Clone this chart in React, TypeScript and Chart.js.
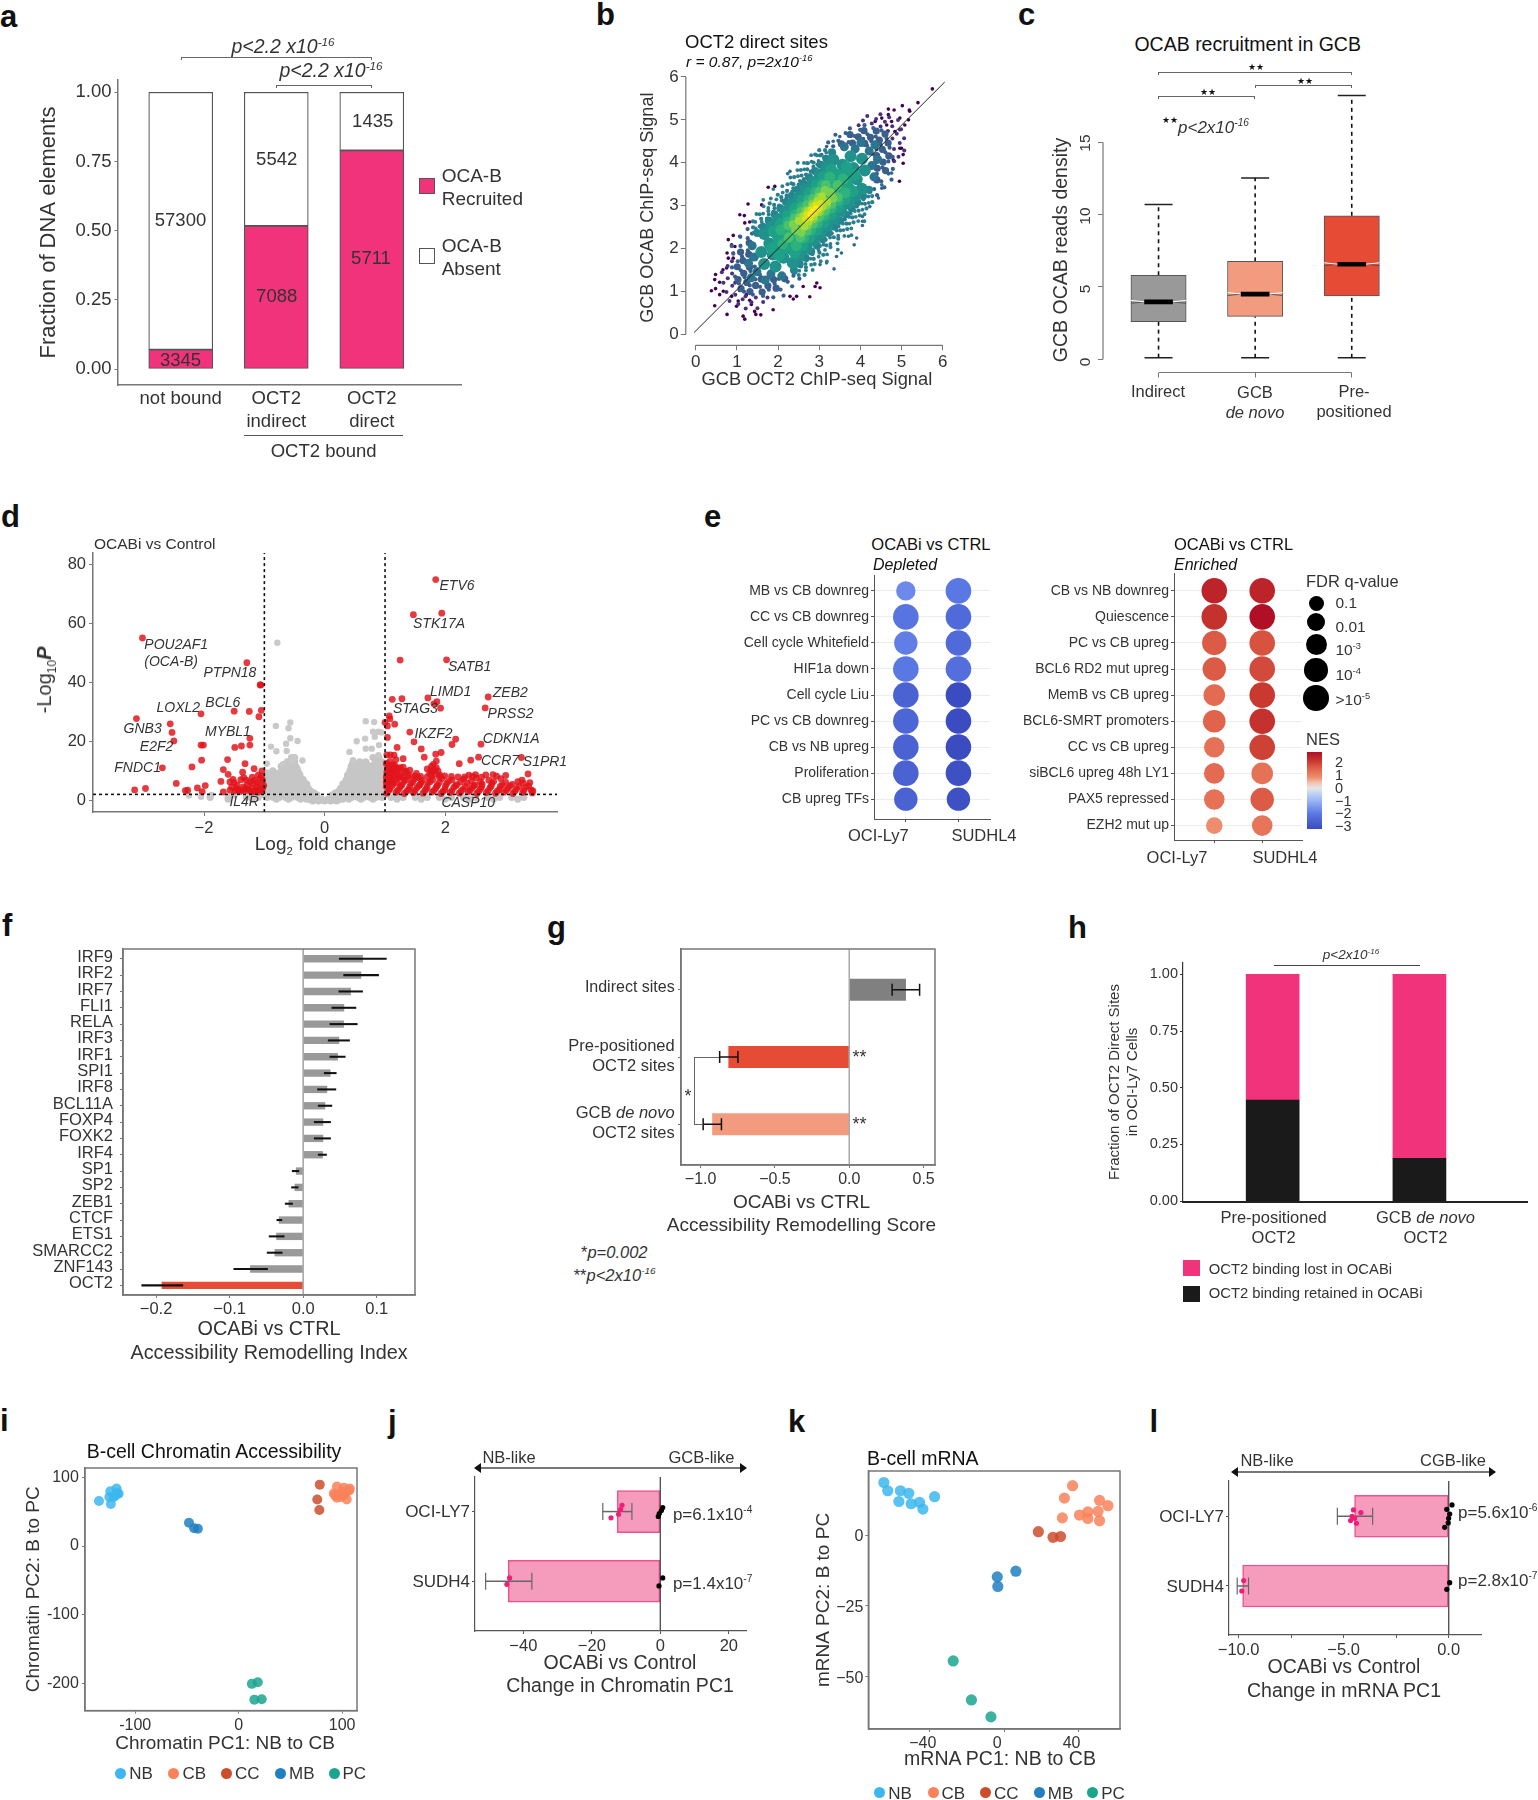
import React, { useEffect, useRef } from 'react';
import { Chart, registerables } from 'chart.js';
Chart.register(...registerables);

const FONT = '"Liberation Sans", Arial, sans-serif';
const TXT = '#333333';
const AX = '#777777';
const PINK = '#f0337a';
const RED = '#e64b35';
const SALMON = '#f39b7f';
const GRAY = '#999999';
const TOP = 22;
const RIGHT = 40;

const minus = (s: string) => s.replace('-', '\u2212');
const fmt = (d: number, m = true) => (v: number) => { const s = Number(v).toFixed(d); const z = Number(s) === 0 ? Number(0).toFixed(d) : s; return m ? minus(z) : z; };
const pairs = (a: number[]) => { const o: any[] = []; for (let i = 0; i < a.length; i += 2) o.push({ x: a[i], y: a[i + 1] }); return o; };
const rows = (r: [number, number[]][]) => r.flatMap(([y, xs]) => xs.map((x) => ({ x, y })));
// b: the cloud is read along its long axis (a) and across it (c), in data units from its centre
const cloud = (r: [number, number[]][]) => r.flatMap(([c, as]) => as.map((a) => ({ x: 2.85 + a * 0.7 + c * 0.72, y: 2.87 + a * 0.72 - c * 0.7 })));

// ---------- a
const aCats = ['not bound', ['OCT2', 'indirect'], ['OCT2', 'direct']];
const aRecruited = [0.07, 0.517, 0.79];
const aAbsent = [0.93, 0.483, 0.21];
// ---------- b
const bOutPurple = pairs([5.02,5.33,4.68,5.25,4.82,5.23,5.19,5.23,4.68,5.12,4.96,5.04,5.17,5.0,4.52,5.04,4.36,4.96,4.76,4.96,4.64,4.88,5.08,4.88,4.96,4.77,4.84,4.73,5.0,4.34,5.04,4.19,4.96,4.34,4.8,4.07,5.04,3.99,4.95,3.57,4.64,3.84,5.75,5.72,5.4,5.4,5.2,5.2,1.76,3.43,1.92,3.45,1.27,3.04,1.6,3.02,1.07,2.79,1.18,2.77,1.19,2.6,1.31,2.62,0.91,2.31,1.07,2.29,0.79,2.21,0.87,2.09,0.95,2.05,0.76,1.9,0.91,1.9,0.79,1.78,0.91,1.78,0.66,1.51,0.75,1.55,0.48,1.4,0.46,1.28,0.58,1.22,0.38,1.02,0.48,1.07,0.67,1.01,0.58,0.93,0.46,0.67,0.87,0.89,1.03,0.78,0.99,0.66,0.76,0.47,1.15,0.43,1.19,0.36,1.43,0.54,1.46,0.47,1.58,0.46,1.88,0.58,1.23,0.93,1.31,0.8,1.35,0.7,2.29,0.89,2.37,0.83,2.45,0.89,2.77,0.88,2.61,1.12,2.9,1.12,2.94,1.2,3.02,1.09]);
const bOutBlue = pairs([3.5,4.61,3.18,4.38,3.34,4.5,3.06,4.19,2.29,3.8,2.73,3.99,3.36,1.53,3.18,1.67,3.02,1.63,3.54,1.9,3.42,1.82,3.85,2.09,3.91,2.25,3.71,2.29,4.05,2.75,4.05,2.64,4.05,2.54,4.23,2.98,4.44,3.18,4.52,3.41,4.52,3.49,4.76,3.76]);
const bEdgeTeal = cloud([[0.72,[-1.22,-1.0,-0.83,-0.55,-0.38,-0.15,0.08,0.3,0.52,0.71,0.95,1.18]],[0.83,[-1.1,-0.92,-0.66,-0.44,-0.25,0.02,0.2,0.41,0.63,0.86,1.08]],[0.94,[-0.98,-0.7,-0.48,-0.12,0.12,0.36,0.6,0.82]],[1.05,[-0.6,-0.22,0.25,0.7]],[-0.72,[-1.25,-1.04,-0.8,-0.6,-0.35,-0.18,0.05,0.28,0.49,0.75,0.93,1.2]],[-0.83,[-1.15,-0.88,-0.7,-0.42,-0.2,0.1,0.33,0.55,0.8,1.0]],[-0.94,[-1.0,-0.75,-0.5,-0.1,0.18,0.42,0.65,0.9]],[-1.05,[-0.65,-0.3,0.2,0.55]]]);
const bEdgeTeal2 = cloud([[0.68,[-1.32,-1.12,-0.92,-0.72,-0.46,-0.26,-0.05,0.18,0.4,0.6,0.82,1.05,1.28]],[0.78,[-1.3,-1.05,-0.78,-0.58,-0.34,-0.08,0.14,0.36,0.56,0.78,1.0,1.25]],[0.88,[-1.2,-0.85,-0.55,-0.3,-0.03,0.28,0.5,0.72,0.95,1.15]],[-0.68,[-1.35,-1.15,-0.9,-0.68,-0.48,-0.22,-0.02,0.2,0.38,0.62,0.85,1.08,1.3]],[-0.78,[-1.28,-1.0,-0.75,-0.55,-0.3,-0.1,0.12,0.4,0.6,0.82,1.05,1.22]],[-0.88,[-1.18,-0.95,-0.6,-0.32,0.02,0.25,0.48,0.7,0.98,1.12]]]);
const bBandOuter = cloud([[0.62,[-1.3,-1.1,-0.9,-0.7,-0.5,-0.3,-0.1,0.1,0.3,0.5,0.7,0.9,1.1,1.3]],[-0.62,[-1.3,-1.1,-0.9,-0.7,-0.5,-0.3,-0.1,0.1,0.3,0.5,0.7,0.9,1.1,1.3]]]);
const bTailSolid = cloud([[0.6,[-1.9,-1.6,1.6,1.9]],[0.42,[-2.2,-2.0,-1.8,1.8,2.0,2.2]],[0.2,[-2.4,-2.2,-2.0,2.0,2.2,2.4]],[0,[-2.5,-2.3,2.3,2.5]],[-0.2,[-2.4,-2.2,-2.0,2.0,2.2,2.4]],[-0.42,[-2.2,-2.0,-1.8,1.8,2.0,2.2]],[-0.6,[-1.9,-1.6,1.6,1.9]]]);
const bTailBlue = cloud([[-0.85,[-1.95,-1.65,-1.4,1.4,1.65]],[-0.7,[-2.05,-1.8,-1.55,-1.4,1.42,1.6,1.85,2.0]],[-0.5,[-2.3,-2.1,-1.95,-1.75,1.75,1.95,2.15,2.3]],[-0.3,[-2.4,-2.2,-2.0,-1.85,1.9,2.05,2.2,2.4]],[-0.12,[-2.45,-2.25,-2.05,-1.9,2.0,2.15,2.3,2.5]],[0.1,[-2.5,-2.3,-2.1,-1.95,1.95,2.1,2.25,2.45]],[0.3,[-2.4,-2.15,-2.0,-1.85,1.85,2.0,2.2,2.35]],[0.5,[-2.25,-2.05,-1.85,-1.7,1.7,1.9,2.1,2.25]],[0.7,[-2.1,-1.85,-1.6,-1.4,1.4,1.65,1.9,2.05]],[0.85,[-1.9,-1.6,-1.35,1.35,1.6,1.85]]]);
const bTailDark = cloud([[-0.6,[-2.55,-2.35,-2.2,2.2,2.35,2.5]],[-0.4,[-2.7,-2.55,-2.4,2.45,2.6,2.75]],[-0.2,[-2.8,-2.6,-2.5,2.55,2.7,2.85]],[0,[-2.9,-2.7,-2.55,2.6,2.75,2.95]],[0.2,[-2.8,-2.65,-2.55,2.55,2.7,2.85]],[0.4,[-2.75,-2.55,-2.4,2.4,2.6,2.75]],[0.6,[-2.55,-2.35,-2.2,2.2,2.35,2.55]]]);
const bBand0 = cloud([[0.5,[-1.6,1.6]],[0.28,[-1.95,-1.75,1.75,1.95]],[0,[-2.15,-1.95,1.95,2.15]],[-0.28,[-1.95,-1.75,1.75,1.95]],[-0.5,[-1.6,1.6]]]);
const bBand1 = cloud([[0.48,[-1.2,-0.96,-0.72,-0.48,-0.24,0,0.24,0.48,0.72,0.96,1.2]],[0.24,[-1.55,-1.27,-0.99,-0.71,-0.43,-0.15,0.15,0.43,0.71,0.99,1.27,1.55]],[0,[-1.7,-1.4,-1.1,-0.8,-0.5,-0.2,0.2,0.5,0.8,1.1,1.4,1.7]],[-0.24,[-1.55,-1.27,-0.99,-0.71,-0.43,-0.15,0.15,0.43,0.71,0.99,1.27,1.55]],[-0.48,[-1.2,-0.96,-0.72,-0.48,-0.24,0,0.24,0.48,0.72,0.96,1.2]]]);
const bBand2 = cloud([[0.36,[-1.0,-0.75,-0.5,-0.25,0,0.25,0.5,0.75,1.0]],[0.12,[-1.3,-1.04,-0.78,-0.52,-0.26,0,0.26,0.52,0.78,1.04,1.3]],[-0.12,[-1.3,-1.04,-0.78,-0.52,-0.26,0,0.26,0.52,0.78,1.04,1.3]],[-0.36,[-1.0,-0.75,-0.5,-0.25,0,0.25,0.5,0.75,1.0]]]);
const bBand3 = cloud([[0.26,[-0.85,-0.6,-0.36,-0.12,0.12,0.36,0.6,0.85]],[0,[-1.05,-0.79,-0.53,-0.27,0,0.27,0.53,0.79,1.05]],[-0.26,[-0.85,-0.6,-0.36,-0.12,0.12,0.36,0.6,0.85]]]);
const bBand4 = cloud([[0.2,[-0.65,-0.43,-0.21,0,0.21,0.43,0.65]],[0,[-0.85,-0.61,-0.37,-0.12,0.12,0.37,0.61,0.85]],[-0.2,[-0.65,-0.43,-0.21,0,0.21,0.43,0.65]]]);
const bBand5 = cloud([[0.13,[-0.55,-0.33,-0.11,0.11,0.33,0.55]],[0,[-0.6,-0.3,0,0.3,0.6]],[-0.13,[-0.55,-0.33,-0.11,0.11,0.33,0.55]]]);
const bBand6 = cloud([[0.09,[-0.4,-0.24,-0.08,0.08,0.24,0.4]],[-0.09,[-0.4,-0.24,-0.08,0.08,0.24,0.4]]]);
const bBand7 = cloud([[0.06,[-0.15,0,0.15]],[0,[-0.26,-0.13,0,0.13,0.26]],[-0.06,[-0.15,0,0.15]]]);
const bBand8 = cloud([[0,[-0.1,0,0.1]]]);
const bFit = [{ x: -0.04, y: 0.05 }, { x: 6.05, y: 5.88 }];
// ---------- c
const cCats3 = [1, 2, 3];
const cLow = [0.11, 0.1, 0.1];
const cQ1 = [2.6, 2.96, 4.38];
const cMed = [3.97, 4.51, 6.57];
const cQ3 = [5.81, 6.77, 9.92];
const cHigh = [10.7, 12.54, 18.24];
const cColors = [GRAY, SALMON, RED];
// ---------- d
const dRedLeft = pairs([-1.06,39.1,-3.12,27.7,-2.05,29.3,-1.5,30.2,-1.25,30.1,-1.05,30.5,-1.09,28.3,-2.56,25.9,-2.53,23,-2.5,20.1,-1.24,21,-1.24,18.7,-1.38,18.4,-1.49,17.9,-2.05,18.7,-2.01,18.7,-2.04,13.6,-1.61,13.8,-1.32,12.4,-2.69,11,-2.2,11.3,-1.17,10.7,-1.04,10,-1.68,10.4,-1.6,8.8,-1.36,9.5,-1.1,8.6,-1.34,7.7,-2.46,5.7,-1.72,6.4,-1.52,7.1,-1.57,6.2,-1.45,5.1,-3.15,3.5,-2.97,4,-1.98,5,-2.11,4.2,-2.31,3.3,-2.27,3.4,-2.03,2.9,-1.68,2.8,-1.54,4.5,-1.49,3.2,-1.43,3.4,-1.32,3.9,-1.27,3.9,-1.19,5.7,-1.13,4.5,-1.07,5.1,-1.03,6.8,-1.24,6.2,-1.3,6.8,-1.35,3.4,-1.19,2.8,-1.1,2.8,-1.05,3.4,-1.57,3.4,-1.07,7.4,-3.02,55,-1.29,46.6,-1.07,39.1,-1.01,5,-1.03,4,-1.06,3.5,-1.1,3.6,-1.15,3.3,-1.2,4,-1.22,3,-1.29,3.3,-1.35,4.5,-1.4,3,-1.46,4,-1.12,6,-1.16,6.8,-1.2,7.8,-1.05,8.2,-1.5,6,-1.39,7,-1.28,5.2]);
const dRedRight = pairs([1.84,74.8,1.47,62.9,1.94,63.4,1.25,47.5,2.02,47.6,1.12,34.2,1.28,34.4,1.71,34.7,1.86,33.4,1.81,32.7,1.92,31.2,2.71,35,2.66,31.3,1.07,28.6,1.08,27.6,1.0,26.4,1.04,25.2,1.16,25.8,1.41,23.1,1.48,19.8,1.04,21.3,2.17,20.7,2.11,18.9,2.59,19,1.2,17.9,1.6,17.4,1.93,16.2,1.84,15.6,1.65,14.6,1.03,15.4,1.09,15.4,1.15,15.3,1.3,14.1,1.18,13.8,2.42,13.6,2.55,14.6,3.26,14.5,2.23,12.4,3.37,8.9,1.77,11.5,1.85,11.1,1.83,10.2,1.05,11.9,1.11,10.7,1.25,11.1,1.16,11.9,1.33,9.6,1.41,10.2,1.52,9.1,1.74,9.1,1.91,8.5]);
const dRedDense = pairs([1.03,2.4,1.18,2.7,1.32,2.3,1.47,2.6,1.63,2.4,1.78,2.8,1.93,2.3,2.08,2.6,2.23,2.4,2.38,2.9,2.52,2.3,2.68,2.6,2.83,2.4,2.97,2.7,3.12,2.3,3.28,2.6,3.44,2.5,1.08,3.9,1.24,4.2,1.39,3.7,1.53,4.3,1.68,3.8,1.84,4.1,1.99,3.6,2.14,4.4,2.29,3.7,2.44,4.2,2.58,3.8,2.74,4.3,2.89,3.6,3.04,4.1,3.18,3.9,3.33,4.4,3.42,3.5,1.04,5.4,1.14,5.7,1.28,5.2,1.43,5.8,1.58,5.3,1.71,5.9,1.87,5.1,2.02,5.6,2.19,5.3,2.36,5.8,2.49,5.2,2.61,5.5,2.77,5.7,2.94,5.2,3.11,5.4,3.29,5.8,3.4,6.0,1.03,7.1,1.11,6.8,1.21,7.3,1.34,6.9,1.49,7.2,1.61,6.7,1.79,7.0,1.94,7.4,2.11,6.9,2.3,7.2,2.51,7.6,2.72,6.8,2.92,7.3,3.27,6.8,1.07,8.6,1.17,8.2,1.27,8.8,1.41,8.4,1.59,8.1,1.82,8.9,1.99,8.3,2.21,7.9,2.39,8.5,2.5,8.7,2.67,8.6,2.79,8.7,1.04,10.2,1.14,9.8,1.23,10.4,1.35,9.9,1.76,10.1,1.02,12.5,1.08,13.2,1.13,12.1,1.2,11.0,1.06,3.2,1.21,3.3,1.36,3.1,1.5,3.4,1.66,3.2,1.81,3.3,1.96,3.0,2.11,3.3,2.26,3.1,2.41,3.4,2.55,3.0,2.71,3.3,2.86,3.1,3.01,3.4,3.15,3.1,3.3,3.3,3.45,3.2,1.02,4.7,1.12,4.9,1.26,4.8,1.41,4.6,1.56,4.9,1.7,4.6,1.86,4.8,2.0,4.7,2.17,4.9,2.33,4.7,2.47,4.9,2.6,4.6,2.76,4.8,2.91,4.7,3.07,4.9,3.22,4.7,3.38,4.9,1.02,6.2,1.09,6.4,1.19,6.1,1.31,6.3,1.46,6.2,1.6,6.0,1.75,6.3,1.9,6.1,2.05,6.4,2.25,6.2,2.43,6.5,2.58,6.2,2.8,6.4,3.0,6.1,3.2,6.3,1.02,8,1.1,7.6,1.15,9,1.25,8,1.3,7.8,1.38,7.9,1.5,8.2,1.55,7.7,1.7,8,1.9,7.9,2.1,8.1,2.32,7.9,2.6,7.8,2.85,8.2,3.0,8.4,2.45,8.1,1.03,9.5,1.09,9.4,1.2,9.6,1.3,11.2,1.07,11.5,1.15,10.6,1.7,10.6,1.8,9.8,1.88,9.9,1.8,12.2,1.85,13.3,1.77,8.2]);
const dGraySparse = pairs([-0.785,53.4,-0.81,25.2,-0.57,26.4,-0.6,24.4,-0.57,21,-0.45,20.1,-0.64,19.2,-0.89,18.2,-0.8,16.6,-0.63,16.7,-0.52,14.5,-0.37,13.5,-0.96,12.4,-0.69,12.2,-0.54,13,0.68,26.8,0.82,26.5,0.8,23.2,0.89,23.2,0.94,23,0.83,21.5,0.53,20,0.67,20.9,0.41,16.4,0.68,17.5,0.78,17.5,0.9,18.7,0.47,13.6,0.89,15.3,-2.25,1.6,-1.88,1.8,-2.05,1.2]);
const dGrayDense = rows([[-0.2,[-0.2,-0.1,0,0.1,0.2]],[0.4,[-1.6,-1.2,-0.8,-0.6,-0.4,-0.3,0.3,0.4,0.6,0.8,1.2,1.6,2,2.4,2.8,3.2]],[0.3,[-0.25,-0.15,-0.05,0.05,0.15,0.25]],[1,[-1.9,-1.6,-1.3,-1.1,-0.95,-0.85,-0.75,-0.65,-0.55,-0.45,-0.35,-0.25,0.25,0.35,0.45,0.55,0.65,0.75,0.85,0.95,1.1,1.3,1.5,1.7,1.9,2.1,2.3,2.5,2.7,2.9,3.1,3.3]],[1.8,[-1.5,-1.2,-0.99,-0.9,-0.8,-0.7,-0.6,-0.5,-0.4,-0.3,-0.2,-0.13,0.13,0.2,0.3,0.4,0.5,0.6,0.7,0.8,0.9,0.99,1.2,1.5]],[2.5,[-0.98,-0.86,-0.74,-0.62,-0.5,-0.38,-0.26,-0.18,0.18,0.28,0.4,0.52,0.64,0.76,0.88,0.98]],[3.2,[-0.93,-0.8,-0.67,-0.55,-0.43,-0.32,-0.24,0.24,0.33,0.45,0.57,0.69,0.81,0.93]],[4,[-0.97,-0.85,-0.73,-0.6,-0.48,-0.37,-0.27,0.26,0.37,0.48,0.6,0.72,0.84,0.96]],[4.8,[-0.91,-0.78,-0.65,-0.53,-0.42,-0.33,0.33,0.43,0.55,0.67,0.79,0.91]],[5.5,[-0.95,-0.83,-0.7,-0.58,-0.46,-0.36,-0.3,0.3,0.38,0.5,0.62,0.74,0.86,0.97]],[6.2,[-0.99,-0.86,-0.74,-0.62,-0.5,-0.4,-0.34,0.34,0.42,0.52,0.64,0.76,0.88,0.99]],[7,[-0.9,-0.78,-0.66,-0.54,-0.44,-0.36,0.36,0.46,0.56,0.68,0.8,0.92]],[7.8,[-0.98,-0.85,-0.73,-0.61,-0.5,-0.44,0.4,0.5,0.62,0.74,0.86,0.97]],[8.5,[-0.92,-0.8,-0.68,-0.57,-0.48,-0.41,0.38,0.45,0.55,0.67,0.79,0.9,0.98]],[9.2,[-0.95,-0.82,-0.7,-0.6,-0.5,-0.43,0.41,0.48,0.58,0.7,0.82,0.94]],[10,[-0.86,-0.72,-0.62,-0.52,-0.45,0.42,0.5,0.6,0.7,0.82,0.94]],[10.8,[-0.68,-0.58,-0.5,-0.46,0.44,0.54,0.66,0.76,0.88,0.97]],[11.5,[-0.72,-0.62,-0.54,-0.48,0.44,0.52,0.65,0.78,0.9,0.98]],[12.2,[-0.66,-0.58,-0.5,0.46,0.56,0.7,0.82,0.93]],[13,[-0.62,-0.54,-0.5,0.47,0.58,0.68,0.85,0.95]],[14.5,[-0.55,-0.5,0.8,0.9]]]);
const dVLeft = [{ x: -1, y: -4 }, { x: -1, y: 84 }];
const dVRight = [{ x: 1, y: -4 }, { x: 1, y: 84 }];
const dH = [{ x: -3.84, y: 2 }, { x: 3.85, y: 2 }];
const dLabels: [string, number, number][] = [['ETV6',439.5,585.3],['STK17A',413,622.7],['SATB1',448,666],['LIMD1',430,691],['ZEB2',492.8,691.7],['STAG3',393,708.3],['PRSS2',487.6,713],['IKZF2',414.4,733.3],['CDKN1A',482.8,738],['CCR7',481,760],['S1PR1',522.8,760.7],['CASP10',441.4,801.7],['POU2AF1',144.3,644.3],['(OCA-B)',144.3,661.3],['PTPN18',203.5,672],['LOXL2',156.5,706.7],['BCL6',205.3,701.7],['GNB3',123.6,728],['MYBL1',205,730.7],['E2F2',139.8,746],['FNDC1',114.3,766.7],['IL4R',229.4,801]];
// ---------- e
const eDepLabels = ['MB vs CB downreg','CC vs CB downreg','Cell cycle Whitefield','HIF1a down','Cell cycle Liu','PC vs CB downreg','CB vs NB upreg','Proliferation','CB upreg TFs'];
const eDepOciNes = [-1.7,-2.1,-1.9,-2.0,-2.5,-2.4,-2.5,-2.5,-2.5];
const eDepSudNes = [-2.0,-2.3,-2.3,-2.2,-3,-3,-3,-2.9,-2.9];
const eDepOciR = [9.7,12.8,11.7,12.8,12.8,12.8,12.8,12.8,11.7];
const eDepSudR = [12.8,12.8,12.8,12.8,12.8,12.8,12.8,12.8,11.7];
const eEnrLabels = ['CB vs NB downreg','Quiescence','PC vs CB upreg','BCL6 RD2 mut upreg','MemB vs CB upreg','BCL6-SMRT promoters','CC vs CB upreg','siBCL6 upreg 48h LY1','PAX5 repressed','EZH2 mut up'];
const eEnrOciNes = [2.3,2.1,1.6,1.6,1.4,1.5,1.3,1.4,1.3,0.9];
const eEnrSudNes = [2.3,2.6,1.7,1.8,2.0,2.1,1.9,1.3,1.6,1.25];
const eEnrOciR = [12.8,12.8,12.2,11.7,10.8,11.3,10.3,10.3,10.3,8.3];
const eEnrSudR = [12.8,12.8,12.8,12.8,12.8,12.8,12.8,10.8,11.7,10.3];
const nesStops: [number, number[]][] = [[-3,[58,76,192]],[-2,[90,120,228]],[-1,[154,181,247]],[0,[230,230,230]],[0.9,[238,141,109]],[1.5,[224,100,76]],[2,[201,57,47]],[2.6,[177,15,37]]];
const nesColor = (v: number) => { for (let i = 1; i < nesStops.length; i++) { const [a, ca] = nesStops[i - 1]; const [b, cb] = nesStops[i]; if (v <= b) { const t = (v - a) / (b - a); return `rgb(${ca.map((c, k) => Math.round(c + (cb[k] - c) * t)).join(',')})`; } } return 'rgb(177,15,37)'; };
// ---------- f
const fLabels = ['IRF9','IRF2','IRF7','FLI1','RELA','IRF3','IRF1','SPI1','IRF8','BCL11A','FOXP4','FOXK2','IRF4','SP1','SP2','ZEB1','CTCF','ETS1','SMARCC2','ZNF143','OCT2'];
const fValues = [0.0807,0.0785,0.0644,0.0553,0.0549,0.0485,0.0467,0.0367,0.0322,0.0295,0.0268,0.0268,0.0263,-0.0095,-0.0113,-0.0195,-0.0327,-0.0363,-0.0385,-0.0717,-0.192];
const fLow = [0.049,0.055,0.0485,0.039,0.0363,0.034,0.0363,0.0286,0.0195,0.0204,0.015,0.015,0.0204,-0.015,-0.0159,-0.0245,-0.0358,-0.0463,-0.049,-0.0943,-0.2195];
const fHigh = [0.113,0.1025,0.0807,0.0717,0.0735,0.063,0.0571,0.0449,0.0444,0.039,0.0372,0.0372,0.0317,-0.0059,-0.0068,-0.0145,-0.029,-0.0259,-0.0286,-0.0485,-0.1637];
// ---------- g
const gValues = [0.379, -0.811, -0.92];
const gLow = [0.288, -0.872, -0.983];
const gHigh = [0.473, -0.749, -0.86];
const gColors = ['#808080', RED, SALMON];
// ---------- h
const hCats = [1, 2];
const hRetained = [0.446, 0.189];
const hLost = [0.554, 0.811];
// ---------- i
const iNB = pairs([-135,65.7,-124,80,-118,84,-125,71.6,-123.5,61.3,-119,74,-117,77.4,-120.7,71.6,-116,76.4]);
const iCB = pairs([95,87,101.7,85,107.4,84,93,74,97,76,100,80,104,79,92,77,95,70.6,104.5,68,101.7,74,107,81,99,71.6]);
const iCC = pairs([78.4,89.6,76,68,78,52.6]);
const iMB = pairs([-48,34,-43,26,-39.4,25.3]);
const iPC = pairs([12.8,-201,18.5,-198.6,15.2,-224,22.3,-223.5]);
const PC_COL: Record<string, string> = { NB: '#3db7ef', CB: '#f9825a', CC: '#cc4c2d', MB: '#2080c0', PC: '#1ba58f' };
// ---------- j
const jCats = ['OCI-LY7', 'SUDH4'];
const jValues = [-12.6, -44.4];
const jLow = [-16.8, -51];
const jHigh = [-8.3, -37.5];
const jPink = pairs([-11.2,0.909,-11.6,0.97,-12.2,1.038,-14.4,1.09,-44,1.952,-44.8,2.043]);
const jBlack = pairs([0.7,0.943,0.3,0.986,-0.3,1.029,-0.6,1.07,0.7,1.952,-0.4,2.067]);
// ---------- k
const kNB = pairs([-64.7,18.6,-62.6,15.7,-55.8,15.7,-51.3,14.8,-56.6,11.9,-50,11.1,-45.5,11.6,-43.7,9.2,-37.4,13.6]);
const kCB = pairs([36.8,17.5,32.4,13.1,51.3,12.3,55.8,10.4,50.5,8.4,45,8.2,40.5,7.1,31.3,6.1,45,5.9,51.3,5.1]);
const kCC = pairs([18.4,1.2,26.3,-0.8,30.3,-0.5]);
const kMB = pairs([6.3,-12.8,-3.7,-14.8,-3.4,-18.2]);
const kPC = pairs([-27.4,-44.6,-17.6,-58.4,-7.1,-64.4]);
// ---------- l
const lCats = ['OCI-LY7', 'SUDH4'];
const lValues = [-4.48, -9.81];
const lLow = [-5.3, -10.07];
const lHigh = [-3.62, -9.53];
const lPink = pairs([-4.53,0.909,-4.18,0.947,-4.6,1,-4.48,1.029,-4.67,1.062,-4.39,1.1,-9.76,1.923,-9.85,2.072]);
const lBlack = pairs([0.16,0.837,-0.09,0.9,0.05,0.967,0,1.029,-0.02,1.096,-0.19,1.158,0.05,1.952,-0.09,2.048]);

// ---------- helpers
type Plot = { l: number; t: number; r: number; b: number };
const axis = (o: any) => ({
  type: 'linear', offset: false, min: o.min, max: o.max, reverse: !!o.rev,
  border: { display: o.line !== false, color: o.color || AX, width: o.w ?? 1.5 },
  grid: { display: true, offset: false, drawOnChartArea: !!o.gridColor, color: o.gridColor || 'transparent', drawTicks: o.tick !== 0, tickLength: o.tick ?? 4, tickColor: o.color || AX, tickWidth: 1 },
  ticks: { stepSize: o.step, includeBounds: false, autoSkip: false, maxRotation: 0, minRotation: 0, padding: o.pad ?? 3, labelOffset: o.lo || 0, color: TXT, display: o.labels !== false, font: { family: FONT, size: o.fs || 16, lineHeight: o.lhf || 1.2 }, callback: o.cb || ((v: number) => v) },
  title: o.title ? { display: true, text: o.title, color: TXT, padding: 0, font: { family: FONT, size: o.tfs, lineHeight: 1.2 } } : { display: false },
});
const dots = (data: any[], color: string, r: number, order = 5, extra: any = {}) => ({ type: 'scatter', data, backgroundColor: color, pointBackgroundColor: color, pointBorderWidth: 0, pointRadius: r, showLine: false, order, ...extra });
const seg = (data: any[], color: string, w: number, dash: number[] = [], order = 1) => ({ type: 'scatter', data, showLine: true, borderColor: color, borderWidth: w, borderDash: dash, pointRadius: 0, order, fill: false, tension: 0 });
const caps = (data: any[], color: string, r: number, rot: number, w = 1.5, order = 1) => ({ type: 'scatter', data, showLine: false, pointStyle: 'line', pointRadius: r, pointRotation: rot, pointBorderColor: color, pointBorderWidth: w, borderColor: color, order });
const frame = (color = AX, width = 1.5) => ({ id: 'frame', afterDraw(c: any) { const a = c.chartArea; c.ctx.save(); c.ctx.strokeStyle = color; c.ctx.lineWidth = width; c.ctx.strokeRect(a.left, a.top, a.right - a.left, a.bottom - a.top); c.ctx.restore(); } });
const rAxes = (xr: number[], yr: number[]) => ({ id: 'rAxes', afterDraw(c: any) { const { x, y } = c.scales; const a = c.chartArea; const g = c.ctx; g.save(); g.strokeStyle = AX; g.lineWidth = 1.2; g.beginPath(); g.moveTo(x.getPixelForValue(xr[0]), a.bottom); g.lineTo(x.getPixelForValue(xr[1]), a.bottom); g.moveTo(a.left, y.getPixelForValue(yr[0])); g.lineTo(a.left, y.getPixelForValue(yr[1])); g.stroke(); g.restore(); } });

function ChartBox({ plot, yW = 70, xH = 50, datasets, x, y, plugins = [] }: { plot: Plot; yW?: number; xH?: number; datasets: any[]; x: any; y: any; plugins?: any[] }) {
  const ref = useRef<HTMLCanvasElement>(null);
  useEffect(() => {
    const chart = new Chart(ref.current as any, {
      type: 'scatter', data: { datasets }, plugins,
      options: {
        responsive: false, animation: false, maintainAspectRatio: false,
        layout: { padding: { top: TOP, right: RIGHT, left: 0, bottom: 0 } },
        plugins: { legend: { display: false }, tooltip: { enabled: false } },
        scales: { x: { ...x, position: 'bottom', afterFit: (s: any) => { s.height = xH; } }, y: { ...y, position: 'left', afterFit: (s: any) => { s.width = yW; } } },
      },
    } as any);
    return () => chart.destroy();
  }, []);
  return <canvas ref={ref} width={Math.round(plot.r - plot.l + yW + RIGHT)} height={Math.round(plot.b - plot.t + TOP + xH)} style={{ position: 'absolute', left: plot.l - yW, top: plot.t - TOP, display: 'block' }} />;
}

function T({ x, y, a = 'l', s = 16, i, b, c = TXT, r, children }: any) {
  const tx = a === 'l' ? '0' : a === 'c' ? '-50%' : '-100%';
  return <div style={{ position: 'absolute', left: x, top: y, fontSize: s, fontStyle: i ? 'italic' : 'normal', fontWeight: b ? 700 : 400, color: c, lineHeight: 1, whiteSpace: 'nowrap', transform: `translate(${tx},-50%)${r ? ` rotate(${r}deg)` : ''}` }}>{children}</div>;
}
const Sup = ({ children }: any) => <sup style={{ fontSize: '0.6em', lineHeight: 0, verticalAlign: 'super' }}>{children}</sup>;
const R = ({ x, y, w, h, bg, bd }: any) => <div style={{ position: 'absolute', left: x, top: y, width: w, height: h, background: bg, border: bd, boxSizing: 'border-box' }} />;
const Br = ({ x1, x2, y, d = 3, c = '#666' }: any) => <div style={{ position: 'absolute', left: x1, top: y, width: x2 - x1, height: d, borderTop: `1px solid ${c}`, borderLeft: `1px solid ${c}`, borderRight: `1px solid ${c}`, boxSizing: 'border-box' }} />;
const Dot = ({ x, y, r, c }: any) => <div style={{ position: 'absolute', left: x - r, top: y - r, width: 2 * r, height: 2 * r, borderRadius: '50%', background: c }} />;
const Arrow = ({ x1, x2, y }: any) => (<>
  <R x={x1} y={y - 1} w={x2 - x1} h={2} bg="#777" />
  <div style={{ position: 'absolute', left: x1 - 2, top: y - 5, borderTop: '5px solid transparent', borderBottom: '5px solid transparent', borderRight: '7px solid #111' }} />
  <div style={{ position: 'absolute', left: x2 - 5, top: y - 5, borderTop: '5px solid transparent', borderBottom: '5px solid transparent', borderLeft: '7px solid #111' }} />
</>);
const L = ({ x, y, t }: any) => <T x={x} y={y} s={31} b c="#111">{t}</T>;
const bar = (data: any[], color: any, thick: number, order = 5, extra: any = {}) => ({ type: 'bar', grouped: false, data, backgroundColor: color, barThickness: thick, borderSkipped: false, order, ...extra });
const hbar = (data: any[], color: any, thick: number, order = 5, extra: any = {}) => bar(data, color, thick, order, { indexAxis: 'y', ...extra });

function BubbleMatrix({ plot, labels, oci, sud, ociR, sudR, xMin, xMax, yMin, yMax }: any) {
  const pts = (arr: number[], xv: number) => arr.map((_: number, k: number) => ({ x: xv, y: k + 1 }));
  const ds = [
    dots(pts(oci, 1), '#000', 0, 5, { pointBackgroundColor: oci.map(nesColor), pointRadius: ociR }),
    dots(pts(sud, 2), '#000', 0, 5, { pointBackgroundColor: sud.map(nesColor), pointRadius: sudR }),
  ];
  return <ChartBox plot={plot} yW={165} xH={10} datasets={ds}
    x={axis({ min: xMin, max: xMax, step: 1, labels: false, tick: 3, color: '#555', w: 1, gridColor: '#f4f4f4' })}
    y={axis({ min: yMin, max: yMax, rev: true, step: 1, fs: 14, tick: 3, pad: 2, color: '#555', w: 1, gridColor: '#ececec', cb: (v: number) => labels[v - 1] })} />;
}

function ChangePanel({ plot, xMin, xMax, step, cb, yMin, yMax, cats, values, low, high, pink, black }: any) {
  const bars = values.map((v: number, k: number) => ({ x: v, y: k + 1 }));
  const ds: any[] = [
    hbar(bars, '#f59bbb', 42, 6, { borderColor: '#f0508f', borderWidth: 1.5 }),
    seg([{ x: 0, y: yMin }, { x: 0, y: yMax }], '#555', 1, [], 5),
    dots(pink, '#f01e78', 2.6, 1),
    dots(black, '#000', 2.6, 1),
  ];
  values.forEach((_: number, k: number) => {
    ds.push(seg([{ x: low[k], y: k + 1 }, { x: high[k], y: k + 1 }], '#666', 1.5, [], 3));
    ds.push(caps([{ x: low[k], y: k + 1 }, { x: high[k], y: k + 1 }], '#666', 8.5, 90, 1.2, 3));
  });
  return <ChartBox plot={plot} yW={90} xH={30} datasets={ds}
    x={axis({ min: xMin, max: xMax, step, cb, fs: 16.5, tick: 3, pad: 3, color: '#555', w: 1.2 })}
    y={axis({ min: yMin, max: yMax, rev: true, step: 1, fs: 17, tick: 3, pad: 2, lo: 1, color: '#555', w: 1.2, cb: (v: number) => cats[v - 1] })} />;
}

const pcDatasets = (r: number, nb: any[], cb: any[], cc: any[], mb: any[], pc: any[]) => [
  dots(pc, PC_COL.PC + 'd9', r), dots(mb, PC_COL.MB + 'd9', r), dots(cc, PC_COL.CC + 'd9', r), dots(cb, PC_COL.CB + 'd9', r), dots(nb, PC_COL.NB + 'd9', r),
];
const PcLegend = ({ y, pos }: any) => (<>{['NB', 'CB', 'CC', 'MB', 'PC'].map((n, k) => (<React.Fragment key={n}><Dot x={pos[k]} y={y} r={5.5} c={PC_COL[n]} /><T x={pos[k] + 8.5} y={y} s={17}>{n}</T></React.Fragment>))}</>);

export default function App() {
  const gBars = gValues.map((v, k) => ({ x: v, y: k + 1 }));
  const gErr: any[] = [];
  gValues.forEach((_, k) => {
    gErr.push(seg([{ x: gLow[k], y: k + 1 }, { x: gHigh[k], y: k + 1 }], '#111', 1.5, [], 2));
    gErr.push(caps([{ x: gLow[k], y: k + 1 }, { x: gHigh[k], y: k + 1 }], '#111', 6, 90, 1.5, 2));
  });
  const cDs: any[] = [];
  cCats3.forEach((cx, k) => {
    const m = cMed[k];
    cDs.push(bar([{ x: cx, y: [cQ1[k], cQ3[k]] }], cColors[k], 55.3, 6, { borderColor: '#555', borderWidth: 1 }));
    cDs.push(bar([{ x: cx, y: [m - 0.14, m + 0.14] }], '#000', 28, 2));
    cDs.push(seg([{ x: cx - 0.286, y: m + 0.1 }, { x: cx - 0.14, y: m }, { x: cx + 0.14, y: m }, { x: cx + 0.286, y: m + 0.1 }], '#fff', 1, [], 3));
    cDs.push(seg([{ x: cx - 0.286, y: m - 0.1 }, { x: cx - 0.14, y: m }, { x: cx + 0.14, y: m }, { x: cx + 0.286, y: m - 0.1 }], '#555', 1, [], 3));
    cDs.push(seg([{ x: cx, y: cQ3[k] }, { x: cx, y: cHigh[k] }], '#111', 1.6, [4, 4], 7));
    cDs.push(seg([{ x: cx, y: cLow[k] }, { x: cx, y: cQ1[k] }], '#111', 1.6, [4, 4], 7));
    cDs.push(caps([{ x: cx, y: cLow[k] }, { x: cx, y: cHigh[k] }], '#222', 14, 0, 1.5, 7));
  });
  return (
    <div style={{ position: 'absolute', left: 0, top: 0, width: 1538, height: 1800, background: '#fff', overflow: 'hidden', fontFamily: FONT }}>
      {/* a */}
      <L x={0} y={16} t="a" />
      <ChartBox plot={{ l: 117.3, t: 80, r: 460.7, b: 385 }} yW={81.5} xH={60}
        datasets={[
          bar(aRecruited.map((v, k) => ({ x: k + 1, y: v })), PINK, 64, 5, { borderColor: '#555', borderWidth: 1.2, stack: 's' }),
          bar(aAbsent.map((v, k) => ({ x: k + 1, y: v })), '#fff', 64, 5, { borderColor: '#555', borderWidth: 1.2, stack: 's' }),
        ]}
        x={{ ...axis({ min: 0.338, max: 3.934, step: 1, fs: 18.5, lhf: 1.25, tick: 0, pad: 2, w: 1.5, cb: (v: number) => aCats[v - 1] }), stacked: true }}
        y={{ ...axis({ min: -0.0578, max: 1.0445, step: 0.25, fs: 18.5, tick: 3, pad: 3, cb: fmt(2), title: 'Fraction of DNA elements', tfs: 22 }), stacked: true }} />
      <Br x1={180.7} x2={372} y={57} /><T x={283} y={46.7} a="c" s={19.5} i>p&lt;2.2 x10<Sup>-16</Sup></T>
      <Br x1={276} x2={372} y={85} /><T x={331} y={71} a="c" s={19.5} i>p&lt;2.2 x10<Sup>-16</Sup></T>
      <T x={180.5} y={220} a="c" s={18.5}>57300</T><T x={276.7} y={159} a="c" s={18.5}>5542</T><T x={372.7} y={121} a="c" s={18.5}>1435</T>
      <T x={180.5} y={360} a="c" s={18.5}>3345</T><T x={276.7} y={296} a="c" s={18.5}>7088</T><T x={371} y={257.7} a="c" s={18.5}>5711</T>
      <R x={244} y={435} w={159} h={1.3} bg="#555" /><T x={323.7} y={450.7} a="c" s={18.5}>OCT2 bound</T>
      <R x={419.3} y={178.3} w={16} h={16} bg={PINK} bd="1px solid #555" /><T x={441.7} y={175} s={19}>OCA-B</T><T x={441.7} y={198} s={19}>Recruited</T>
      <R x={419.3} y={248.3} w={16} h={16} bg="#fff" bd="1px solid #555" /><T x={441.7} y={245} s={19}>OCA-B</T><T x={441.7} y={268.3} s={19}>Absent</T>

      {/* b */}
      <L x={596} y={14} t="b" />
      <ChartBox plot={{ l: 686, t: 70, r: 948, b: 345.7 }} yW={48.8} xH={45.7}
        plugins={[rAxes([0, 6], [0, 6])]}
        datasets={[
          seg(bFit, '#222', 1, [], 1),
          dots(bBand8, '#fde725', 3, 2), dots(bBand7, '#d8e219', 3.5, 3), dots(bBand6, '#a8db34', 4, 4), dots(bBand5, '#7ad151', 4.5, 5),
          dots(bBand4, '#4ac16d', 5, 6), dots(bBand3, '#2db27d', 5.5, 7), dots(bBand2, '#1fa187', 6, 8), dots(bBand1, '#21918c', 6, 9), dots(bBand0, '#2b758e', 4.5, 10),
          dots(bBandOuter, '#25858e', 4, 10), dots(bEdgeTeal2, '#2a7f8e', 2.1, 11), dots(bEdgeTeal, '#2a7f8e', 1.9, 11), dots(bTailSolid, '#3b5e8c', 3.6, 11), dots(bTailBlue, '#35608d', 2.1, 12), dots(bTailDark, '#46327e', 2, 13),
          dots(bOutBlue, '#31688e', 1.8, 14), dots(bOutPurple, '#440154', 1.8, 14),
        ]}
        x={axis({ min: -0.243, max: 6.13, step: 1, fs: 17, tick: 5, pad: 2, line: false, title: 'GCB OCT2 ChIP-seq Signal', tfs: 18.3 })}
        y={axis({ min: -0.249, max: 6.16, step: 1, fs: 17, tick: 5, pad: 2, line: false, title: 'GCB OCAB ChIP-seq Signal', tfs: 18 })} />
      <T x={685} y={42} s={18.5} c="#111">OCT2 direct sites</T>
      <T x={686} y={62} s={15.5} i c="#111">r = 0.87, p=2x10<Sup>-16</Sup></T>

      {/* c */}
      <L x={1018} y={14} t="c" />
      <ChartBox plot={{ l: 1102.7, t: 85, r: 1390, b: 375.7 }} yW={40} xH={12}
        plugins={[rAxes([1, 3], [0, 15])]} datasets={cDs}
        x={axis({ min: 0.425, max: 3.396, step: 1, labels: false, tick: 5, line: false })}
        y={axis({ min: -0.917, max: 18.97, step: 5, labels: false, tick: 5, line: false })} />
      <T x={1247.7} y={45} a="c" s={19.5} c="#111">OCAB recruitment in GCB</T>
      <Br x1={1158.3} x2={1351.7} y={72} /><T x={1256} y={67} a="c" s={9} c="#111">★★</T>
      <Br x1={1255} x2={1351.7} y={85} /><T x={1305} y={81} a="c" s={9} c="#111">★★</T>
      <Br x1={1158.3} x2={1255} y={96} /><T x={1207.7} y={92} a="c" s={9} c="#111">★★</T>
      <T x={1161.7} y={120} s={9} c="#111">★★</T><T x={1178} y={127} s={17} i>p&lt;2x10<Sup>-16</Sup></T>
      <T x={1060.7} y={250} a="c" s={19.5} r={-90}>GCB OCAB reads density</T>
      {[['0', 362.3], ['5', 289.2], ['10', 216.1], ['15', 143]].map(([t, yy]: any) => <T key={t} x={1085} y={yy} a="c" s={15.5} r={-90}>{t}</T>)}
      <T x={1158} y={391} a="c" s={16.5}>Indirect</T>
      <T x={1255} y={392} a="c" s={16.5}>GCB</T><T x={1255} y={412} a="c" s={16.5} i>de novo</T>
      <T x={1354} y={391} a="c" s={16.5}>Pre-</T><T x={1354} y={411} a="c" s={16.5}>positioned</T>

      {/* d */}
      <L x={1} y={516} t="d" />
      <ChartBox plot={{ l: 93.2, t: 553, r: 556.8, b: 811.7 }} yW={70} xH={30}
        datasets={[
          seg(dVLeft, '#111', 1.6, [3, 3], 1), seg(dVRight, '#111', 1.6, [3, 3], 1), seg(dH, '#111', 1.6, [3, 3], 1),
          dots(dRedLeft, 'rgba(226,20,28,0.84)', 3.4, 3), dots(dRedRight, 'rgba(226,20,28,0.84)', 3.4, 3), dots(dRedDense, 'rgba(226,20,28,0.84)', 3.4, 3),
          dots(dGraySparse, '#c9c9c9', 3.2, 4), dots(dGrayDense, '#c6c6c6', 3.6, 4),
        ]}
        x={axis({ min: -3.84, max: 3.85, step: 2, fs: 16.5, tick: 4, pad: 3, cb: fmt(0) })}
        y={axis({ min: -3.97, max: 83.8, step: 20, fs: 16.5, tick: 4, pad: 3, cb: fmt(0) })} />
      <T x={94} y={544.3} s={15.5}>OCABi vs Control</T>
      <T x={46} y={680} a="c" s={20} r={-90}>-Log<sub style={{ fontSize: '0.6em' }}>10</sub><b><i>P</i></b></T>
      <T x={325.6} y={846} a="c" s={19}>Log<sub style={{ fontSize: '0.6em' }}>2</sub> fold change</T>
      {dLabels.map(([t, xx, yy]) => <T key={t} x={xx} y={yy} s={14} i>{t}</T>)}

      {/* e */}
      <L x={704} y={516} t="e" />
      <BubbleMatrix plot={{ l: 873.6, t: 575, r: 990, b: 822 }} labels={eDepLabels} oci={eDepOciNes} sud={eDepSudNes} ociR={eDepOciR} sudR={eDepSudR} xMin={0.395} xMax={2.6} yMin={0.39} yMax={9.77} />
      <T x={871.3} y={544.3} s={16.5} c="#111">OCABi vs CTRL</T><T x={873} y={565} s={16} i c="#111">Depleted</T>
      <T x={878.3} y={835} a="c" s={16.5}>OCI-Ly7</T><T x={984} y={835} a="c" s={16.5}>SUDHL4</T>
      <BubbleMatrix plot={{ l: 1173.5, t: 573, r: 1301.5, b: 843 }} labels={eEnrLabels} oci={eEnrOciNes} sud={eEnrSudNes} ociR={eEnrOciR} sudR={eEnrSudR} xMin={0.16} xMax={2.83} yMin={0.32} yMax={10.56} />
      <T x={1174} y={544.3} s={16.5} c="#111">OCABi vs CTRL</T><T x={1174} y={565} s={16} i c="#111">Enriched</T>
      <T x={1177} y={857} a="c" s={16.5}>OCI-Ly7</T><T x={1285} y={857} a="c" s={16.5}>SUDHL4</T>
      <T x={1306} y={581} s={16.5}>FDR q-value</T>
      {[[603, 7.5], [621.7, 9], [644, 10.5], [670, 11.7], [698, 12.8]].map(([yy, r], k) => <Dot key={k} x={1316} y={yy} r={r} c="#000" />)}
      <T x={1335.5} y={603} s={15.5}>0.1</T><T x={1335.5} y={627} s={15.5}>0.01</T>
      <T x={1335.5} y={650} s={15.5}>10<Sup>-3</Sup></T><T x={1335.5} y={675} s={15.5}>10<Sup>-4</Sup></T><T x={1335.5} y={700} s={15.5}>&gt;10<Sup>-5</Sup></T>
      <T x={1306} y={739} s={16.5}>NES</T>
      <R x={1306.6} y={751.7} w={15.8} h={77.3} bg="linear-gradient(to bottom,#b10f25 0%,#c9392f 12%,#e0644c 22%,#ee8d6d 33%,#f3c4b0 40%,#e6e6e6 47%,#bccdf5 55%,#9ab5f7 63%,#5a78e4 80%,#3a4cc0 100%)" />
      {[['2', 761.7], ['1', 775], ['0', 788], ['\u22121', 801], ['\u22122', 813], ['\u22123', 826]].map(([t, yy]: any) => <T key={t} x={1335} y={yy} a="l" s={14.5}>{t}</T>)}

      {/* f */}
      <L x={2} y={925} t="f" />
      <ChartBox plot={{ l: 123.3, t: 949.3, r: 415, b: 1295.7 }} yW={110} xH={70}
        plugins={[frame()]}
        datasets={[
          bar(fHigh.map((h, k) => ({ x: [fLow[k], h], y: k + 1 })), '#111', 1.4, 1, { indexAxis: 'y' }),
          seg([{ x: 0, y: 0.4 }, { x: 0, y: 21.6 }], '#aaa', 1, [], 4),
          hbar(fValues.map((v, k) => ({ x: v, y: k + 1 })), fLabels.map((n) => (n === 'OCT2' ? RED : GRAY)), 6.7, 5),
        ]}
        x={axis({ min: -0.245, max: 0.152, step: 0.1, fs: 16.5, tick: 3, pad: 2, cb: fmt(1), title: ['OCABi vs CTRL', 'Accessibility Remodelling Index'], tfs: 19.8 })}
        y={axis({ min: 0.4, max: 21.59, rev: true, step: 1, fs: 16.5, tick: 3, pad: 7, lo: -1.5, cb: (v: number) => fLabels[v - 1] })} />

      {/* g */}
      <L x={547} y={927} t="g" />
      <ChartBox plot={{ l: 680.8, t: 949.3, r: 935, b: 1165 }} yW={40} xH={30}
        plugins={[frame()]}
        datasets={[
          ...gErr,
          seg([{ x: 0, y: 0.394 }, { x: 0, y: 3.606 }], '#aaa', 1, [], 3),
          hbar(gBars, gColors, 21.5, 5),
        ]}
        x={axis({ min: -1.132, max: 0.5766, step: 0.5, fs: 16, tick: 3, pad: 2, cb: fmt(1) })}
        y={axis({ min: 0.394, max: 3.606, rev: true, step: 1, labels: false, tick: 3 })} />
      <T x={674.7} y={987} a="r" s={16}>Indirect sites</T>
      <T x={674.7} y={1045} a="r" s={16.5}>Pre-positioned</T><T x={674.7} y={1065} a="r" s={16.5}>OCT2 sites</T>
      <T x={674.7} y={1112} a="r" s={16.5}>GCB <i>de novo</i></T><T x={674.7} y={1132} a="r" s={16.5}>OCT2 sites</T>
      <R x={694} y={1057} w={1} h={67} bg="#666" /><R x={694} y={1057} w={25} h={1} bg="#666" /><R x={694} y={1124} w={9} h={1} bg="#666" />
      <T x={688} y={1096} a="c" s={18}>*</T><T x={859.6} y={1057} a="c" s={18}>**</T><T x={859.6} y={1124} a="c" s={18}>**</T>
      <T x={801.5} y={1201} a="c" s={19}>OCABi vs CTRL</T><T x={801.5} y={1223.5} a="c" s={19}>Accessibility Remodelling Score</T>
      <T x={581} y={1251.7} s={16.5}>*<i>p=0.002</i></T><T x={573.7} y={1275} s={16.5}>**<i>p&lt;2x10<Sup>-16</Sup></i></T>

      {/* h */}
      <L x={1068} y={927} t="h" />
      <ChartBox plot={{ l: 1183, t: 963, r: 1527, b: 1202.7 }} yW={80} xH={10}
        datasets={[
          bar(hCats.map((c, k) => ({ x: c, y: hRetained[k] })), '#1a1a1a', 53, 5, { stack: 's' }),
          bar(hCats.map((c, k) => ({ x: c, y: hLost[k] })), PINK, 53, 5, { stack: 's' }),
        ]}
        x={{ ...axis({ min: 0.389, max: 2.733, step: 1, labels: false, tick: 0, color: '#222', w: 2 }), stacked: true }}
        y={{ ...axis({ min: -0.005, max: 1.05, step: 0.25, fs: 14.5, tick: 3, pad: 2, color: '#333', w: 1.2, cb: fmt(2) }), stacked: true }} />
      <T x={1112.6} y={1081.7} a="c" s={15} r={-90}>Fraction of OCT2 Direct Sites</T><T x={1131} y={1081.7} a="c" s={15} r={-90}>in OCI-Ly7 Cells</T>
      <R x={1273.6} y={965} w={146.4} h={1} bg="#444" /><T x={1351} y={955} a="c" s={13.5} i>p&lt;2x10<Sup>-16</Sup></T>
      <T x={1273.6} y={1216.7} a="c" s={16.5}>Pre-positioned</T><T x={1273.6} y={1236.7} a="c" s={16.5}>OCT2</T>
      <T x={1425.5} y={1216.7} a="c" s={16.5}>GCB <i>de novo</i></T><T x={1425.5} y={1236.7} a="c" s={16.5}>OCT2</T>
      <R x={1183} y={1260} w={16.5} h={16} bg={PINK} /><T x={1208.7} y={1268.7} s={14.8}>OCT2 binding lost in OCABi</T>
      <R x={1183} y={1285.7} w={16.5} h={16} bg="#1a1a1a" /><T x={1208.7} y={1293} s={14.8}>OCT2 binding retained in OCABi</T>

      {/* i */}
      <L x={0} y={1420} t="i" />
      <ChartBox plot={{ l: 85, t: 1467.7, r: 357, b: 1710 }} yW={62.9} xH={43.4}
        plugins={[frame()]} datasets={pcDatasets(5, iNB, iCB, iCC, iMB, iPC)}
        x={axis({ min: -148.6, max: 114.4, step: 100, fs: 16, tick: 3, pad: 2, labels: true })}
        y={axis({ min: -240, max: 113.9, step: 100, fs: 16, tick: 3, pad: 3, title: 'Chromatin PC2: B to PC', tfs: 19 })} />
      <T x={214} y={1451.7} a="c" s={19.5} c="#111">B-cell Chromatin Accessibility</T>
      <T x={225} y={1742} a="c" s={19}>Chromatin PC1: NB to CB</T>
      <PcLegend y={1773} pos={[120.8, 173.9, 226.4, 280.5, 334]} />

      {/* j */}
      <L x={388} y={1421} t="j" />
      <ChangePanel plot={{ l: 474.5, t: 1476.7, r: 745, b: 1630.7 }} xMin={-54.1} xMax={25} step={20} cb={fmt(0)} yMin={0.504} yMax={2.713} cats={jCats} values={jValues} low={jLow} high={jHigh} pink={jPink} black={jBlack} />
      <T x={509} y={1456.7} a="c" s={16.5}>NB-like</T><T x={701.4} y={1456.7} a="c" s={16.5}>GCB-like</T>
      <Arrow x1={476.4} x2={745} y={1468.3} />
      <T x={672.9} y={1514.3} s={17}>p=6.1x10<Sup>-4</Sup></T><T x={672.9} y={1582.7} s={17}>p=1.4x10<Sup>-7</Sup></T>
      <T x={620} y={1662.7} a="c" s={19.5}>OCABi vs Control</T><T x={620} y={1686} a="c" s={19.5}>Change in Chromatin PC1</T>

      {/* k */}
      <L x={788} y={1421} t="k" />
      <ChartBox plot={{ l: 868, t: 1470.7, r: 1120, b: 1728.3 }} yW={56.4} xH={30}
        plugins={[frame()]} datasets={pcDatasets(5.6, kNB, kCB, kCC, kMB, kPC)}
        x={axis({ min: -73, max: 62.3, step: 40, fs: 16, tick: 3, pad: 2, lo: -7, cb: fmt(0) })}
        y={axis({ min: -68.7, max: 22.7, step: 25, fs: 16, tick: 3, pad: 2, lo: 2, cb: fmt(0), title: 'mRNA PC2: B to PC', tfs: 19 })} />
      <T x={867} y={1459} s={19.5} c="#111">B-cell mRNA</T>
      <T x={1000} y={1759} a="c" s={19.5}>mRNA PC1: NB to CB</T>
      <PcLegend y={1792.7} pos={[879.7, 933, 985.5, 1039.3, 1092.7]} />

      {/* l */}
      <L x={1149.5} y={1421} t="l" />
      <ChangePanel plot={{ l: 1228.9, t: 1480.7, r: 1480.6, b: 1634.7 }} xMin={-10.46} xMax={1.54} step={2.5} cb={(v: number) => (v % 5 === 0 ? fmt(1)(v) : '')} yMin={0.494} yMax={2.703} cats={lCats} values={lValues} low={lLow} high={lHigh} pink={lPink} black={lBlack} />
      <T x={1267} y={1460} a="c" s={16.5}>NB-like</T><T x={1453} y={1460} a="c" s={16.5}>CGB-like</T>
      <Arrow x1={1232.8} x2={1493.8} y={1472} />
      <T x={1458} y={1511.7} s={17}>p=5.6x10<Sup>-6</Sup></T><T x={1458} y={1580} s={17}>p=2.8x10<Sup>-7</Sup></T>
      <T x={1344} y={1667} a="c" s={19.5}>OCABi vs Control</T><T x={1344} y={1690.7} a="c" s={19.5}>Change in mRNA PC1</T>
    </div>
  );
}
